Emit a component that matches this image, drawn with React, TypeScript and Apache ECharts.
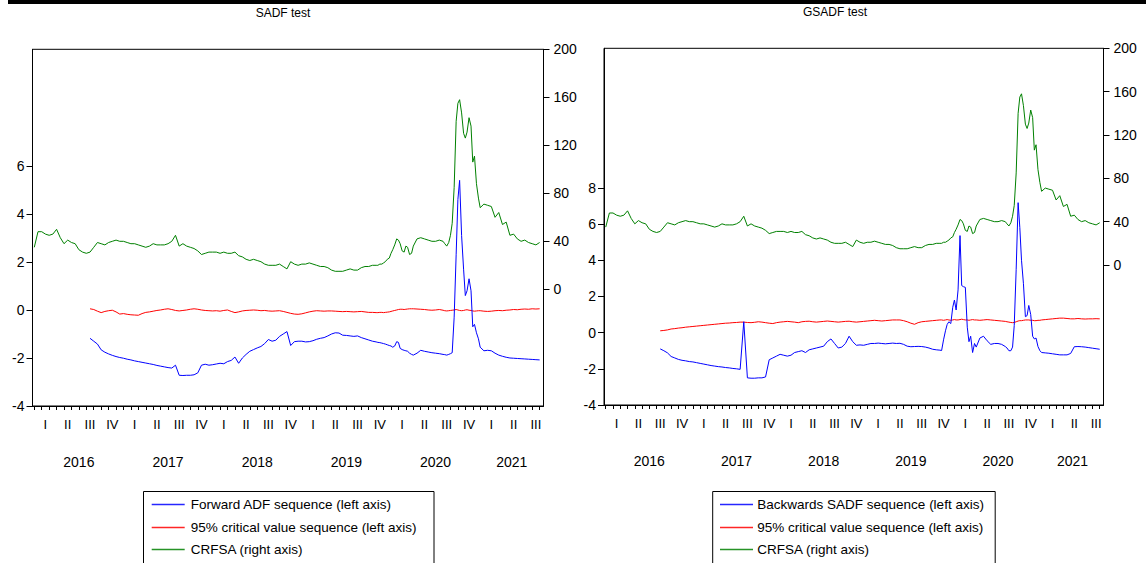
import React, { useEffect, useRef } from 'react';
import * as echarts from 'echarts';

// ---------- axis ranges / labels ----------
const X_MIN = 2015.98;
const X_MAX = 2021.71;
const years = [2016, 2017, 2018, 2019, 2020, 2021];
const quarterLabels = ['I', 'II', 'III', 'IV'];
const leftTicksSADF = [-4, -2, 0, 2, 4, 6];
const leftTicksGSADF = [-4, -2, 0, 2, 4, 6, 8];
const rightTicks = [0, 40, 80, 120, 160, 200];

// ---------- dates: semi-monthly, weekly around the bubbles ----------
const refinedMonths = ['2019-11', '2019-12', '2020-01', '2020-02', '2020-03', '2020-08', '2020-09', '2020-10', '2020-11', '2020-12'];
function buildDates(): string[] {
  const out: string[] = [];
  for (const y of years) {
    for (let m = 1; m <= 12; m++) {
      if (y === 2021 && m > 8) break;
      const key = `${y}-${String(m).padStart(2, '0')}`;
      const days = refinedMonths.includes(key) ? [1, 8, 16, 24] : [1, 16];
      for (const d of days) out.push(`${key}-${String(d).padStart(2, '0')}`);
    }
  }
  out.push('2021-09-01');
  return out;
}
const dates = buildDates();
const SEQ_START = 15; // sequences start 2016-08-16

// ---------- CRFSA (right axis) ----------
const crfsa2016 = [35, 48, 48, 46, 45, 46, 50, 43, 38, 41, 39, 38, 33, 31, 30, 31, 35, 39, 38, 37, 39, 40, 41, 40];
const crfsa2017 = [40, 39, 38, 38, 37, 36, 35, 36, 38, 37, 37, 37, 38, 40, 45, 36, 38, 36, 35, 34, 32, 29, 30, 31];
const crfsa2018 = [31, 31, 30, 31, 30, 30, 31, 28, 27, 25, 24, 25, 24, 23, 21, 20, 20, 20, 21, 19, 17, 23, 21, 20];
const crfsa2019 = [21, 21, 22, 21, 20, 19, 19, 18, 16, 15, 15, 15, 16, 17, 16, 16, 18, 19, 19, 20, 20, 20, 21, 21, 22, 23, 25, 26];
const crfsa2020 = [30, 33, 37, 42, 41, 38, 32, 31, 36, 35, 29, 30, 36, 42, 43, 42, 41, 40, 40, 41,
  40, 38, 36, 39, 45, 55, 85, 140, 155, 158, 147, 130, 126, 131, 143, 136, 106, 111, 88, 76];
const crfsa2021 = [68, 71, 70, 69, 60, 64, 54, 56, 45, 46, 42, 40, 41, 39, 38, 37, 39];

// ---------- Forward ADF sequence (SADF, left axis) ----------
const sadf2016 = [-1.18, -1.3, -1.42, -1.66, -1.76, -1.83, -1.89, -1.94, -1.98];
const sadf2017 = [-2.01, -2.05, -2.08, -2.12, -2.15, -2.18, -2.21, -2.24, -2.27, -2.31, -2.34, -2.37, -2.4, -2.42, -2.3, -2.72, -2.73, -2.72, -2.72, -2.7, -2.62, -2.3, -2.26, -2.3];
const sadf2018 = [-2.28, -2.25, -2.22, -2.24, -2.15, -2.1, -1.96, -2.22, -2.0, -1.85, -1.72, -1.65, -1.58, -1.52, -1.4, -1.23, -1.3, -1.26, -1.1, -1.0, -0.9, -1.48, -1.32, -1.3];
const sadf2019 = [-1.3, -1.33, -1.32, -1.28, -1.22, -1.18, -1.15, -1.08, -1.0, -0.95, -0.96, -1.05, -1.06, -1.08, -1.1, -1.08, -1.15, -1.2, -1.25, -1.3, -1.33, -1.35, -1.36, -1.38, -1.4, -1.42, -1.45, -1.48];
const sadf2020 = [-1.5, -1.55, -1.5, -1.32, -1.35, -1.6, -1.65, -1.68, -1.7, -1.72, -1.8, -1.85, -1.88, -1.8, -1.68, -1.72, -1.75, -1.78, -1.8, -1.82,
  -1.85, -1.86, -1.88, -1.85, -1.82, -1.78, -0.3, 2.3, 4.6, 5.4, 3.1, 1.7, 0.6, 0.8, 1.3, 0.8, -0.7, -0.6, -0.95, -1.2];
const sadf2021 = [-1.55, -1.7, -1.68, -1.7, -1.8, -1.88, -1.93, -1.97, -2.0, -2.01, -2.02, -2.03, -2.04, -2.05, -2.06, -2.07, -2.08];

// ---------- 95% critical values for SADF ----------
const critS2016 = [0.05, 0.02, -0.05, -0.11, -0.06, -0.03, -0.01, -0.08, -0.17];
const critS2017 = [-0.15, -0.18, -0.2, -0.21, -0.22, -0.15, -0.1, -0.08, -0.05, -0.02, 0.0, 0.03, 0.05, 0.02, -0.02, -0.04, -0.02, 0.0, 0.03, 0.05, 0.03, 0.0, -0.02, -0.03];
const critS2018 = [-0.04, -0.03, -0.05, -0.02, 0.0, -0.06, -0.11, -0.08, -0.04, -0.02, -0.01, 0.0, -0.01, -0.03, -0.02, -0.04, -0.05, -0.04, -0.03, -0.06, -0.1, -0.14, -0.17, -0.18];
const critS2019 = [-0.16, -0.12, -0.08, -0.05, -0.03, -0.04, -0.05, -0.04, -0.04, -0.05, -0.06, -0.07, -0.06, -0.07, -0.08, -0.07, -0.06, -0.08, -0.1, -0.1, -0.11, -0.11, -0.1, -0.1, -0.11, -0.1, -0.09, -0.08];
const critS2020 = [-0.06, -0.04, -0.02, 0.0, 0.02, 0.03, 0.03, 0.02, 0.03, 0.04, 0.05, 0.05, 0.05, 0.04, 0.03, 0.02, 0.0, -0.01, 0.0, 0.02,
  -0.01, -0.03, -0.04, -0.03, -0.02, -0.01, 0.0, 0.02, 0.0, -0.02, -0.03, -0.02, 0.0, 0.01, -0.01, -0.02, -0.04, -0.05, -0.04, -0.03];
const critS2021 = [-0.03, -0.05, -0.06, -0.05, -0.03, -0.02, -0.03, -0.01, 0.0, 0.02, 0.01, 0.03, 0.04, 0.03, 0.05, 0.04, 0.05];

// ---------- Backwards SADF sequence (GSADF, left axis) ----------
const bsadf2016 = [-0.9, -1.0, -1.12, -1.32, -1.4, -1.48, -1.53, -1.56, -1.6];
const bsadf2017 = [-1.62, -1.66, -1.7, -1.74, -1.78, -1.82, -1.85, -1.88, -1.9, -1.93, -1.95, -1.98, -2.0, -2.03, 0.6, -2.5, -2.52, -2.52, -2.5, -2.5, -2.45, -1.5, -1.4, -1.3];
const bsadf2018 = [-1.2, -1.25, -1.3, -1.25, -1.1, -1.05, -1.0, -1.1, -0.95, -0.9, -0.85, -0.8, -0.75, -0.5, -0.35, -0.6, -0.85, -0.8, -0.6, -0.2, -0.5, -0.7, -0.68, -0.7];
const bsadf2019 = [-0.65, -0.6, -0.6, -0.58, -0.6, -0.62, -0.6, -0.58, -0.6, -0.59, -0.65, -0.75, -0.78, -0.77, -0.76, -0.77, -0.8, -0.85, -0.92, -0.95, -0.97, -0.99, -0.4, 0.1, 0.45, 0.6, 0.5, 1.4];
const bsadf2020 = [1.8, 1.25, 2.36, 5.36, 2.6, 2.54, 2.5, 0.3, -0.5, -0.2, -1.1, -0.6, -0.8, -0.3, -0.2, -0.45, -0.65, -0.6, -0.6, -0.65,
  -0.77, -0.85, -1.0, -1.0, -0.8, 0.4, 3.5, 7.18, 5.8, 4.0, 2.7, 0.88, 0.94, 1.5, 1.0, -0.2, -0.35, -0.3, -0.77, -1.0];
const bsadf2021 = [-1.1, -1.12, -1.14, -1.17, -1.2, -1.23, -1.23, -1.23, -1.15, -0.78, -0.77, -0.78, -0.8, -0.83, -0.86, -0.89, -0.92];

// ---------- 95% critical values for GSADF ----------
const critG2016 = [0.1, 0.12, 0.15, 0.2, 0.22, 0.25, 0.27, 0.3, 0.32];
const critG2017 = [0.34, 0.36, 0.38, 0.4, 0.42, 0.44, 0.46, 0.48, 0.5, 0.52, 0.53, 0.55, 0.56, 0.58, 0.58, 0.56, 0.55, 0.57, 0.6, 0.58, 0.55, 0.52, 0.5, 0.55];
const critG2018 = [0.58, 0.6, 0.62, 0.6, 0.58, 0.55, 0.6, 0.62, 0.63, 0.6, 0.58, 0.6, 0.62, 0.64, 0.62, 0.6, 0.58, 0.6, 0.62, 0.63, 0.6, 0.58, 0.6, 0.62];
const critG2019 = [0.64, 0.66, 0.68, 0.66, 0.64, 0.66, 0.68, 0.7, 0.7, 0.7, 0.66, 0.6, 0.52, 0.46, 0.55, 0.6, 0.62, 0.64, 0.66, 0.68, 0.7, 0.7, 0.68, 0.7, 0.72, 0.7, 0.68, 0.7];
const critG2020 = [0.72, 0.7, 0.7, 0.72, 0.74, 0.72, 0.7, 0.7, 0.68, 0.7, 0.72, 0.7, 0.7, 0.68, 0.7, 0.72, 0.7, 0.68, 0.66, 0.64,
  0.62, 0.6, 0.58, 0.56, 0.55, 0.56, 0.6, 0.64, 0.66, 0.66, 0.68, 0.7, 0.7, 0.7, 0.68, 0.68, 0.66, 0.66, 0.68, 0.68];
const critG2021 = [0.7, 0.72, 0.74, 0.76, 0.78, 0.8, 0.8, 0.78, 0.76, 0.76, 0.78, 0.76, 0.75, 0.76, 0.76, 0.77, 0.76];

// ---------- texts ----------
const titles = ['SADF test', 'GSADF test'];
const legendSADF = ['Forward ADF sequence (left axis)', '95% critical value sequence (left axis)', 'CRFSA (right axis)'];
const legendGSADF = ['Backwards SADF sequence (left axis)', '95% critical value sequence (left axis)', 'CRFSA (right axis)'];

const BLUE = '#0000ff';
const RED = '#ff0000';
const GREEN = '#008000';
const FONT = "'Liberation Sans', Arial, sans-serif";

function toYear(s: string): number {
  const [y, m, d] = s.split('-').map(Number);
  return y + (m - 1) / 12 + (d - 1) / 30 / 12;
}

function buildOption() {
  const xs = dates.map(toYear);
  const lead = Array(SEQ_START).fill(null);
  const crfsa = [...crfsa2016, ...crfsa2017, ...crfsa2018, ...crfsa2019, ...crfsa2020, ...crfsa2021];
  const sadf = [...lead, ...sadf2016, ...sadf2017, ...sadf2018, ...sadf2019, ...sadf2020, ...sadf2021];
  const critS = [...lead, ...critS2016, ...critS2017, ...critS2018, ...critS2019, ...critS2020, ...critS2021];
  const bsadf = [...lead, ...bsadf2016, ...bsadf2017, ...bsadf2018, ...bsadf2019, ...bsadf2020, ...bsadf2021];
  const critG = [...lead, ...critG2016, ...critG2017, ...critG2018, ...critG2019, ...critG2020, ...critG2021];
  const pts = (arr: (number | null)[]) =>
    xs.map((x, i) => [x, arr[i]]).filter((p) => p[1] !== null && p[1] !== undefined);

  const monthTicks: number[] = [];
  const quarterCenters: number[] = [];
  const yearCenters: number[] = [];
  for (const y of years) {
    for (let m = 0; m < 12; m++) {
      const v = y + m / 12;
      if (v >= X_MIN && v <= X_MAX) monthTicks.push(v);
    }
    for (let q = 0; q < 4; q++) {
      const v = y + (q + 0.5) / 4;
      if (v <= X_MAX) quarterCenters.push(v);
    }
    yearCenters.push((Math.max(y, X_MIN) + Math.min(y + 1, X_MAX)) / 2);
  }
  const qFmt = (v: number) => quarterLabels[Math.min(3, Math.floor((v - Math.floor(v)) * 4 + 1e-6))];
  const yFmt = (v: number) => String(Math.floor(v));

  const black = { color: '#000', width: 1 };
  const xAxesFor = (g: number) => {
    const base = { type: 'value', gridIndex: g, min: X_MIN, max: X_MAX, position: 'bottom', splitLine: { show: false } };
    return [
      {
        ...base,
        axisLine: { show: true, onZero: false, lineStyle: black },
        axisTick: { show: true, customValues: monthTicks, length: 4, inside: false, lineStyle: black },
        axisLabel: { show: true, customValues: quarterCenters, formatter: qFmt, margin: 12, fontSize: 13, color: '#000', fontFamily: FONT },
      },
      {
        ...base,
        axisLine: { show: false, onZero: false },
        axisTick: { show: false },
        axisLabel: { show: true, customValues: yearCenters, formatter: yFmt, margin: 49, fontSize: 14, color: '#000', fontFamily: FONT },
      },
    ];
  };
  const yAxis = (g: number, pos: string, min: number, max: number, ticks: number[], margin: number) => ({
    type: 'value',
    gridIndex: g,
    position: pos,
    min,
    max,
    splitLine: { show: false },
    axisLine: { show: true, onZero: false, lineStyle: black },
    axisTick: { show: true, customValues: ticks, length: 6, inside: false, lineStyle: black },
    axisLabel: { show: true, customValues: ticks, margin, fontSize: 14, color: '#000', fontFamily: FONT },
  });

  const line = (name: string, data: any[], color: string, xi: number, yi: number) => ({
    type: 'line',
    name,
    data,
    xAxisIndex: xi,
    yAxisIndex: yi,
    showSymbol: false,
    symbol: 'none',
    lineStyle: { color, width: 1 },
    itemStyle: { color },
    emphasis: { disabled: true },
  });

  const legendBox = (x: number, w: number, lx: number, tx: number, names: string[]) => {
    const rows = [504.5, 527.5, 549.5];
    const colors = [BLUE, RED, GREEN];
    const children: any[] = [
      { type: 'rect', shape: { x, y: 491.5, width: w, height: 90 }, style: { fill: '#fff', stroke: '#000', lineWidth: 1 } },
    ];
    names.forEach((n, i) => {
      children.push({ type: 'line', shape: { x1: x + lx, y1: rows[i], x2: x + lx + 33, y2: rows[i] }, style: { stroke: colors[i], lineWidth: 1.3, opacity: 0.85 } });
      children.push({ type: 'text', x: x + tx, y: rows[i], style: { text: n, fontSize: 13.5, fontFamily: FONT, fill: '#000', verticalAlign: 'middle', align: 'left' } });
    });
    return { type: 'group', children };
  };

  return {
    animation: false,
    backgroundColor: '#fff',
    grid: [
      { left: 32.5, top: 49.3, width: 511, height: 356.7, show: true, borderColor: '#000', borderWidth: 1, backgroundColor: 'transparent' },
      { left: 604, top: 48.3, width: 499.5, height: 356.7, show: true, borderColor: '#000', borderWidth: 1, backgroundColor: 'transparent' },
    ],
    xAxis: [...xAxesFor(0), ...xAxesFor(1)],
    yAxis: [
      yAxis(0, 'left', -4, 10.86, leftTicksSADF, 8),
      yAxis(0, 'right', -97.25, 200, rightTicks, 10),
      yAxis(1, 'left', -4, 15.71, leftTicksGSADF, 8),
      yAxis(1, 'right', -129.2, 200, rightTicks, 10),
    ],
    series: [
      line(legendSADF[2], pts(crfsa), GREEN, 0, 1),
      line(legendSADF[1], pts(critS), RED, 0, 0),
      line(legendSADF[0], pts(sadf), BLUE, 0, 0),
      line(legendGSADF[2] + ' ', pts(crfsa), GREEN, 2, 3),
      line(legendGSADF[1] + ' ', pts(critG), RED, 2, 2),
      line(legendGSADF[0], pts(bsadf), BLUE, 2, 2),
    ],
    graphic: [
      { type: 'rect', shape: { x: 8, y: 0, width: 1138, height: 4 }, style: { fill: '#000' } },
      { type: 'text', x: 283, y: 13, style: { text: titles[0], fontSize: 12, fontFamily: FONT, fill: '#000', align: 'center', verticalAlign: 'middle' } },
      { type: 'text', x: 835, y: 12, style: { text: titles[1], fontSize: 12, fontFamily: FONT, fill: '#000', align: 'center', verticalAlign: 'middle' } },
      legendBox(143.5, 290.5, 8.2, 47.2, legendSADF),
      legendBox(712.7, 282.5, 7.3, 44.6, legendGSADF),
    ],
  };
}

export default function App() {
  const ref = useRef<HTMLDivElement>(null);
  useEffect(() => {
    if (!ref.current) return;
    const chart = echarts.init(ref.current, null, { renderer: 'svg', width: 1146, height: 563 });
    chart.setOption(buildOption() as any);
    return () => chart.dispose();
  }, []);
  return <div ref={ref} style={{ position: 'fixed', left: 0, top: 0, width: 1146, height: 563, background: '#fff' }} />;
}
